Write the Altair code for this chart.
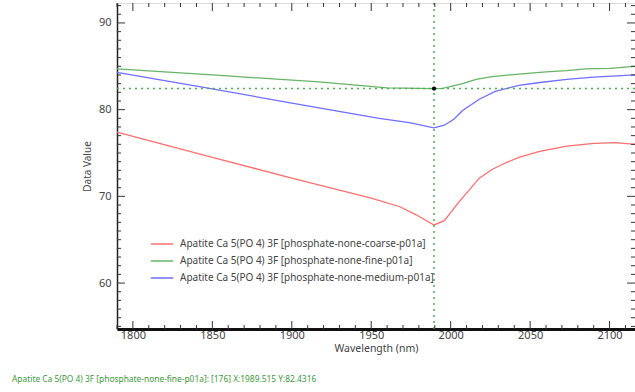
import altair as alt
import pandas as pd

# ---- data ----
coarse_wl = [1790, 1850, 1900, 1950, 1968, 1978, 1989.5, 1996, 2005, 2012, 2018, 2026, 2035, 2043, 2056, 2073, 2090, 2104, 2116]
coarse_val = [77.4, 74.5, 72.1, 69.8, 68.8, 67.9, 66.7, 67.2, 69.3, 70.8, 72.1, 73.1, 73.9, 74.5, 75.2, 75.8, 76.1, 76.2, 76.0]

fine_wl = [1790, 1850, 1917, 1960, 1989.5, 1995, 2007.5, 2016, 2026, 2043, 2060, 2073, 2085, 2100, 2116]
fine_val = [84.7, 84.0, 83.2, 82.5, 82.43, 82.45, 83.0, 83.5, 83.8, 84.1, 84.35, 84.5, 84.7, 84.75, 85.0]

medium_wl = [1790, 1850, 1900, 1955, 1974, 1989.5, 1996, 2002, 2007.5, 2018, 2028, 2043, 2055, 2073, 2090, 2116]
medium_val = [84.3, 82.4, 80.75, 79.0, 78.5, 77.9, 78.2, 78.9, 79.9, 81.2, 82.1, 82.8, 83.1, 83.5, 83.75, 84.0]

series_names = [
    "Apatite Ca 5(PO 4) 3F [phosphate-none-coarse-p01a]",
    "Apatite Ca 5(PO 4) 3F [phosphate-none-fine-p01a]",
    "Apatite Ca 5(PO 4) 3F [phosphate-none-medium-p01a]",
]
series_colors = ["#ff6e6e", "#66b466", "#6e6eff"]

cursor_x = [1989.515]
cursor_y = [82.4316]
status_text = "Apatite Ca 5(PO 4) 3F [phosphate-none-fine-p01a]: [176] X:1989.515 Y:82.4316"

x_major = [1800, 1850, 1900, 1950, 2000, 2050, 2100]
x_minor = [v for v in range(1790, 2120, 10) if v not in x_major]
y_major = [60, 70, 80, 90]
y_minor = [v for v in range(55, 93) if v not in y_major]

X_DOMAIN = [1790, 2116]
Y_DOMAIN = [54.7, 92.3]
W, H = 518, 326
FONT = "Noto Sans"

rows = []
for name, wls, vals in zip(series_names, [coarse_wl, fine_wl, medium_wl], [coarse_val, fine_val, medium_val]):
    for w, v in zip(wls, vals):
        rows.append({"series": name, "wl": w, "val": v})
df = pd.DataFrame(rows)

xs = alt.Scale(domain=X_DOMAIN, nice=False, zero=False)
ys = alt.Scale(domain=Y_DOMAIN, nice=False, zero=False)

x_axis = alt.Axis(
    title="Wavelength (nm)", values=x_major, format="d", ticks=False, tickSize=0, grid=False,
    domainColor="#111", domainWidth=3, labelPadding=0, labelFontSize=11,
    labelColor="#444", titleFontSize=10.5, titleFontWeight="normal", titleColor="#444",
    titlePadding=3, labelFont=FONT, titleFont=FONT)
y_axis = alt.Axis(
    title="Data Value", values=y_major, ticks=False, tickSize=0, grid=False,
    domainColor="#222", domainWidth=1.5, labelPadding=6, labelFontSize=11,
    labelColor="#444", titleFontSize=10, titleFontWeight="normal", titleColor="#444",
    titlePadding=6, labelFont=FONT, titleFont=FONT)


def X(field):
    return alt.X(field, scale=xs, axis=x_axis, title="Wavelength (nm)")


def Y(field):
    return alt.Y(field, scale=ys, axis=y_axis, title="Data Value")


lines = alt.Chart(df).mark_line(strokeWidth=1.3).encode(
    x=X("wl:Q"),
    y=Y("val:Q"),
    color=alt.Color("series:N", scale=alt.Scale(domain=series_names, range=series_colors),
                    legend=alt.Legend(orient="none", legendX=33, legendY=229, title=None,
                                      symbolType="stroke", symbolStrokeWidth=1.5, symbolSize=500,
                                      labelFontSize=10, labelColor="#444", labelFont=FONT,
                                      labelLimit=0, rowPadding=-2, labelOffset=6)),
)

cross_df = pd.DataFrame({"x": cursor_x, "y": cursor_y})
vline = alt.Chart(cross_df).mark_rule(color="#4caf50", strokeDash=[2, 4], strokeWidth=1.5).encode(
    x=X("x:Q"))
hline = alt.Chart(cross_df).mark_rule(color="#4caf50", strokeDash=[2, 4], strokeWidth=1.5).encode(
    y=Y("y:Q"))
dot = alt.Chart(cross_df).mark_circle(color="#000", size=18, opacity=1).encode(
    x=X("x:Q"), y=Y("y:Q"))


def xticks(vals, length, top):
    d = pd.DataFrame({"v": vals})
    y0, y1 = (0, length) if top else (H, H - length)
    return alt.Chart(d).mark_rule(color="#333", strokeWidth=1).encode(
        x=X("v:Q"), y=alt.value(y0), y2=alt.value(y1))


def yticks(vals, length, left):
    d = pd.DataFrame({"v": vals})
    x0, x1 = (0, length) if left else (W, W - length)
    return alt.Chart(d).mark_rule(color="#333", strokeWidth=1).encode(
        y=Y("v:Q"), x=alt.value(x0), x2=alt.value(x1))


ticks = [
    xticks(x_major, 8, True), xticks(x_minor, 4, True),
    xticks(x_major, 8, False), xticks(x_minor, 4, False),
    yticks(y_major, 8, True), yticks(y_minor, 4, True),
    yticks(y_major, 8, False), yticks(y_minor, 4, False),
]

status = alt.Chart(cross_df).mark_text(align="left", baseline="middle", fontSize=8.4,
                                       color="#3a9a3a", font=FONT).encode(
    x=alt.value(-105), y=alt.value(376), text=alt.value(status_text))

chart = alt.layer(lines, vline, hline, *ticks, dot, status).properties(
    width=W, height=H,
    autosize="none",
    padding={"left": 117, "top": 3, "right": 0, "bottom": 63},
).configure_view(stroke="#333", strokeWidth=1.2).configure(background="white")

chart.save("out.html", embed_options={"renderer": "svg", "actions": False})
